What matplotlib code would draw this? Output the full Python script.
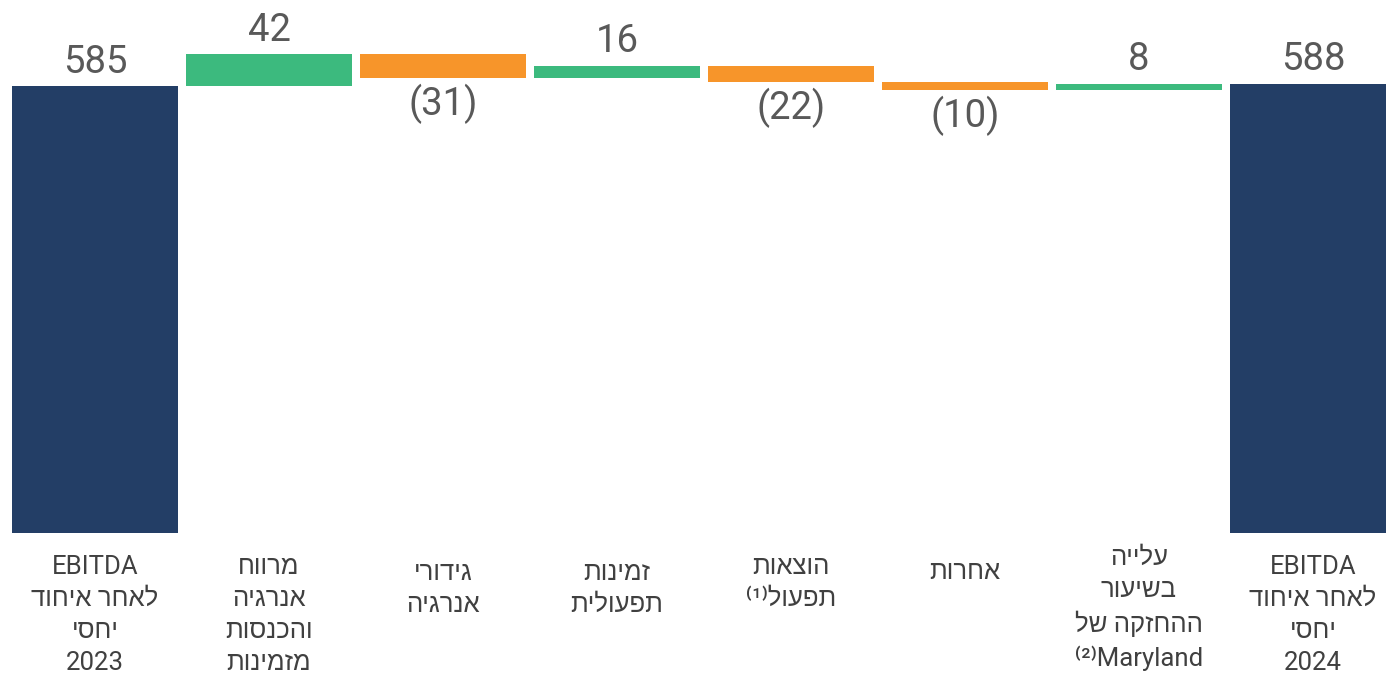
import matplotlib.pyplot as plt

# waterfall data (EBITDA, millions)
start_value = 585
end_value = 588
deltas = [42, -31, 16, -22, -10, 8]

# category labels, one list of lines per bar (logical order)
labels = [
    ["EBITDA", "לאחר איחוד", "יחסי", "2023"],
    ["מרווח", "אנרגיה", "והכנסות", "מזמינות"],
    ["גידורי", "אנרגיה"],
    ["זמינות", "תפעולית"],
    ["הוצאות", ("תפעול", "⁽¹⁾")],
    ["אחרות"],
    ["עלייה", "בשיעור", "ההחזקה של", ("Maryland", "⁽²⁾")],
    ["EBITDA", "לאחר איחוד", "יחסי", "2024"],
]

navy = "#233e66"
green = "#3cba7e"
orange = "#f7952a"
text_gray = "#595959"

plt.rcParams["font.family"] = ["Roboto", "Liberation Sans", "DejaVu Sans"]


def is_hebrew(s):
    return any("\u0590" <= c <= "\u05ff" for c in s)


def visual(line):
    # matplotlib lays glyphs out left to right, so flip the Hebrew lines
    if isinstance(line, tuple):
        word, note = line
        word = word[::-1] if is_hebrew(word) else word
        return note + word
    return line[::-1] if is_hebrew(line) else line


# build bar bottoms / heights from the values
bottoms = [0]
heights = [start_value]
colors = [navy]
running = start_value
for d in deltas:
    new = running + d
    bottoms.append(min(running, new))
    heights.append(abs(d))
    colors.append(green if d > 0 else orange)
    running = new
bottoms.append(0)
heights.append(end_value)
colors.append(navy)

values = [start_value] + deltas + [end_value]
x = list(range(len(values)))

fig = plt.figure(figsize=(13.86, 6.79), dpi=100)
ax = fig.add_axes([0, 0, 1, 1])
ax.bar(x, heights, bottom=bottoms, width=0.954, color=colors)

# value labels
for i, v in enumerate(values):
    top = bottoms[i] + heights[i]
    if i in (0, len(values) - 1) or v > 0:
        ax.annotate(str(v), (i, top), xytext=(0, 4), textcoords="offset points",
                    ha="center", va="bottom", fontsize=27.5, color=text_gray)
    else:
        ax.annotate("(%d)" % abs(v), (i, bottoms[i]), xytext=(0, -4),
                    textcoords="offset points", ha="center", va="top",
                    fontsize=27.5, color=text_gray)

# category labels under the bars (small nudges like the original text boxes)
nudge = [1, 1, -3, -3, 1, -2, 8, 1]
for i, lines in enumerate(labels):
    txt = "\n".join(visual(l) for l in lines)
    ax.annotate(txt, (i, 0), xytext=(0, -17 + nudge[i]), textcoords="offset points",
                ha="center", va="top", fontsize=18.5, color="#404040",
                linespacing=1.42)

ax.set_xlim(-0.546, 7.42)
ax.set_ylim(-191, 698)
ax.axis("off")

plt.savefig("out.png")
